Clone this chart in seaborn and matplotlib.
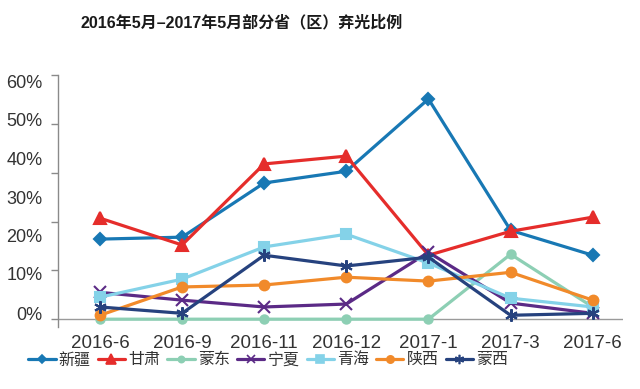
import pandas as pd
import matplotlib
matplotlib.use("Agg")
import matplotlib.pyplot as plt
import seaborn as sns
from matplotlib.lines import Line2D

sns.set_style("white")
plt.rcParams['font.family'] = ['Liberation Sans', 'Noto Sans CJK SC', 'DejaVu Sans']

# Months on the x axis
months = ["2016-6", "2016-9", "2016-11", "2016-12", "2017-1", "2017-3", "2017-6"]

# Curtailment ratio per province
xinjiang = [16.4, 16.8, 27.9, 30.3, 45.1, 18.2, 13.1]
gansu = [20.7, 15.2, 31.8, 33.4, 13.1, 18.0, 20.9]
mengdong = [0.0, 0.0, 0.0, 0.0, 0.0, 13.3, 2.5]
ningxia = [5.5, 3.9, 2.5, 3.1, 13.7, 3.3, 1.2]
qinghai = [4.5, 8.2, 14.8, 17.4, 11.5, 4.3, 2.5]
shaanxi = [0.8, 6.6, 7.0, 8.6, 7.8, 9.6, 3.9]
mengxi = [2.5, 1.2, 13.1, 10.9, 12.7, 0.8, 1.2]

names = ["新疆", "甘肃", "蒙东", "宁夏", "青海", "陕西", "蒙西"]
series = [xinjiang, gansu, mengdong, ningxia, qinghai, shaanxi, mengxi]

# Y tick labels as printed on the original (offset from the tick marks)
ylabels = ["0%", "10%", "20%", "30%", "40%", "50%", "60%"]
ylabel_pos = [1.2, 9.4, 17.2, 25.0, 33.0, 40.8, 48.6]

colors = ["#1878b4", "#e52d2b", "#8dcfb4", "#5b2a86", "#84d2e8", "#f18a2a", "#26427e"]
markers = ["D", "^", "o", "x", "s", "o", (6, 2, 0)]
msizes = [6, 9, 6, 8, 7, 7, 9]

fig = plt.figure(figsize=(6.4, 3.89), dpi=100)
ax = fig.add_axes([0.0906, 0.1594, 0.8824, 0.6476])

for name, vals, c, m, ms in zip(names, series, colors, markers, msizes):
    df = pd.DataFrame({"month": months, "value": vals})
    sns.lineplot(ax=ax, data=df, x="month", y="value", color=c, linewidth=2.3,
                 marker=m, markersize=ms, markeredgecolor=c, markeredgewidth=1.5,
                 sort=False, legend=False)

ax.set_xlim(-0.51, 6.365)
ax.set_ylim(-1.6, 50)
ax.axhline(0, color="#9a9a9a", linewidth=1.0, zorder=0)

for s in ["top", "right", "bottom"]:
    ax.spines[s].set_visible(False)
ax.spines["left"].set_color("#8a8a8a")
ax.spines["left"].set_linewidth(1.0)

# tick marks at every 10 units, labels placed separately like the original
ax.set_yticks([0, 10, 20, 30, 40, 50])
ax.set_yticklabels([])
ax.set_yticks(ylabel_pos, minor=True)
ax.set_yticklabels(ylabels, minor=True)
ax.tick_params(axis="y", which="major", direction="out", length=5, width=1, color="#8a8a8a", left=True)
ax.tick_params(axis="y", which="minor", length=0, pad=11, labelsize=13, labelcolor="#333333")
ax.tick_params(axis="x", length=0, pad=6, labelsize=13.5, labelcolor="#333333")
ax.set_xlabel("")
ax.set_ylabel("")

fig.text(0.378, 0.943, "2016年5月–2017年5月部分省（区）弃光比例", ha="center", va="center",
         fontsize=11.5, fontweight="bold", color="#1a1a1a")

handles = [Line2D([], [], color=c, marker=m, markersize=ms * 0.75, linewidth=2.3,
                  markeredgecolor=c, markeredgewidth=1.2)
           for c, m, ms in zip(colors, markers, msizes)]
fig.legend(handles, names, loc="center", bbox_to_anchor=(0.419, 0.075), ncol=7,
           frameon=False, fontsize=11.5, handlelength=1.7, handletextpad=0.2,
           columnspacing=0.45, labelcolor="#333333")

fig.savefig("out.png", dpi=100)
